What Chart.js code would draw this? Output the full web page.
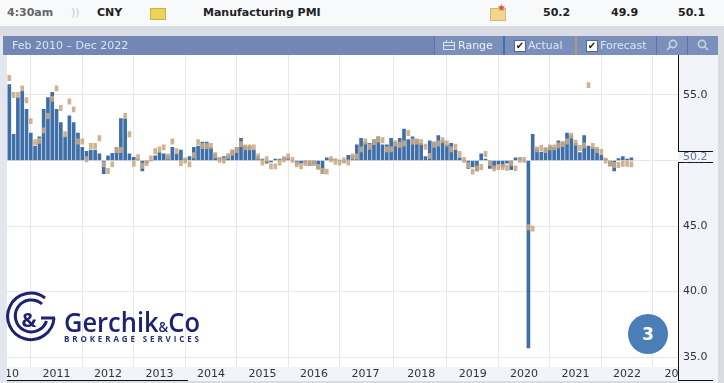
<!DOCTYPE html>
<html>
<head>
<meta charset="utf-8">
<script src="https://cdn.jsdelivr.net/npm/chart.js@4"></script>
<style>
html,body{margin:0;padding:0;background:#d9dde3;}
#page{position:relative;width:724px;height:383px;overflow:hidden;font-family:"DejaVu Sans",sans-serif;}
#page div,#page span{position:absolute;white-space:nowrap;}
#top{left:0;top:0;width:724px;height:26px;background:#f8f9fb;}
#top span{top:6px;font-size:11px;font-weight:bold;color:#222;line-height:14px;}
#bar{left:3px;top:36px;width:715px;height:19px;background:#7287b4;color:#dde4f2;font-size:11px;line-height:19px;}
#bar .btns{left:431px;top:0;width:284px;height:19px;background:#7b8fbb;}
#bar .sep{top:0;width:1px;height:19px;background:#5f74a4;}
#bar .box{top:4px;width:10px;height:10px;background:#fff;border:1px solid #54688f;color:#222;font-size:10px;line-height:10px;text-align:center;}
canvas{position:absolute;left:0;top:0;}
#badge{left:628px;top:314px;width:40px;height:40px;border-radius:50%;background:#4a7eb6;color:#fff;font:bold 17px/40px "DejaVu Sans",sans-serif;text-align:center;}
#logo{position:absolute;left:0;top:285px;}
#bar svg{position:absolute;top:3px;}
</style>
</head>
<body>
<div id="page">
<canvas id="pmi_chart" width="724" height="383"></canvas>
<div id="top">
  <span style="left:7px;color:#666">4:30am</span>
  <span style="left:71px;color:#c4c8ce;font-weight:normal">))</span>
  <span style="left:97px">CNY</span>
  <span style="left:150px;top:8px;width:14px;height:10px;background:#ecd556;border:1px solid #c9b342"></span>
  <span style="left:203px">Manufacturing PMI</span>
  <span style="left:490px;top:8px;width:14px;height:11px;background:#f0d68e;border:1px solid #d9b968"></span>
  <span style="left:497px;top:3px;color:#d8553a;font-size:10px;line-height:10px">★</span>
  <span style="left:543px">50.2</span>
  <span style="left:611px">49.9</span>
  <span style="left:678px">50.1</span>
</div>
<div id="bar">
  <span style="left:9px">Feb 2010 – Dec 2022</span>
  <span class="btns"></span>
  <span class="sep" style="left:431px"></span>
  <svg style="left:440px" width="12" height="12" viewBox="0 0 12 12" fill="none" stroke="#dde4f2"><rect x="0.5" y="3.5" width="11" height="7"/><path d="M0.5 6.5H11.5M3.5 1V3M8.5 1V3"/></svg>
  <span style="left:455px;color:#eef2fa">Range</span>
  <span class="sep" style="left:500px;width:2px;background:#3f6fb5"></span>
  <span class="box" style="left:511px">✔</span>
  <span style="left:525px">Actual</span>
  <span class="sep" style="left:572px;width:2px;background:#ad9a86"></span>
  <span class="box" style="left:583px">✔</span>
  <span style="left:597px">Forecast</span>
  <span class="sep" style="left:653px"></span>
  <span class="sep" style="left:684px"></span>
  <svg style="left:663px" width="12" height="12" viewBox="0 0 12 12" fill="none" stroke="#c9d3e8" stroke-width="1.6"><circle cx="7" cy="5" r="3.6"/><path d="M4.4 7.6L1 11"/></svg>
  <svg style="left:694px" width="12" height="12" viewBox="0 0 12 12" fill="none" stroke="#c9d3e8" stroke-width="1.6"><circle cx="5" cy="5" r="3.6"/><path d="M7.6 7.6L11 11"/></svg>
</div>
<svg id="logo" width="210" height="70" viewBox="0 0 210 70">
  <g fill="none" stroke="#1d2272" stroke-width="3">
    <path d="M45 13 A23.2 23.2 0 1 0 54 33"/>
    <path d="M42 19 A16 16 0 1 0 46.5 36"/>
    <path d="M55 33 H41"/>
  </g>
  <text x="21.5" y="42" font-family="'Open Sans'" font-weight="700" font-size="20" fill="#1d2272">&amp;</text>
  <text x="64" y="47" font-family="'Open Sans'" font-weight="600" font-size="27" fill="#1d2272" textLength="136" lengthAdjust="spacingAndGlyphs">Gerchik<tspan font-size="14">&amp;</tspan>Co</text>
  <text x="64" y="57" font-family="'Open Sans'" font-weight="700" font-size="8" fill="#2a2f7c" textLength="135">BROKERAGE SERVICES</text>
</svg>
<div id="badge">3</div>
</div>
<script>
const years = [2010,2011,2012,2013,2014,2015,2016,2017,2018,2019,2020,2021,2022];
const month_names = ['Jan','Feb','Mar','Apr','May','Jun','Jul','Aug','Sep','Oct','Nov','Dec'];

//one row per year, Jan to Dec
const actual = [
    55.8,52.0,54.8,55.3,53.9,52.1,51.1,51.8,53.9,54.8,55.2,53.9,
    52.9,51.8,53.4,52.9,52.1,51.0,50.7,50.8,50.8,50.5,49.0,50.35,
    50.55,51.0,53.2,53.2,50.5,50.25,50.1,49.2,49.8,50.0,50.35,50.6,
    50.5,50.35,51.0,50.5,50.8,50.1,50.3,51.0,51.1,51.4,51.4,51.0,
    50.5,50.2,50.3,50.4,50.8,51.0,51.7,51.1,51.1,50.8,50.3,50.1,
    49.8,49.9,50.1,50.1,50.2,50.2,50.0,49.7,49.8,49.8,49.6,49.7,
    49.4,49.0,50.2,50.1,50.1,50.0,49.9,50.4,50.4,51.2,51.7,51.4,
    51.3,51.6,51.8,51.2,51.2,51.7,51.4,51.7,52.4,51.6,51.8,51.6,
    51.3,50.3,51.5,51.4,51.9,51.5,51.2,51.3,50.8,50.2,50.0,49.4,
    49.5,49.2,50.5,50.1,49.4,49.4,49.7,49.5,49.8,49.3,50.2,50.2,
    50.0,35.7,52.0,50.9,50.65,50.9,51.1,51.0,51.5,51.4,52.1,51.9,
    51.3,50.6,51.9,51.1,51.0,50.9,50.4,50.1,49.6,49.2,50.15,50.3,
    50.1,50.2
];
const forecast = [
    56.3,55.0,55.0,55.5,54.6,53.0,51.4,51.5,52.3,53.4,54.7,55.5,
    54.0,52.0,54.5,53.9,51.45,51.45,50.1,51.1,51.1,51.7,49.7,49.2,
    49.7,50.8,50.8,53.4,52.0,49.75,50.25,49.6,49.8,50.15,50.7,50.85,
    51.0,50.3,51.45,50.7,49.8,50.0,49.7,50.4,51.4,51.1,51.1,51.1,
    50.4,50.05,50.0,50.35,50.6,50.8,51.25,51.0,51.0,51.0,50.3,49.85,
    50.1,49.55,49.55,49.85,50.1,50.3,50.05,49.7,49.55,49.8,49.8,49.8,
    49.5,49.2,49.15,50.1,49.9,49.85,50.0,49.85,50.3,50.3,50.85,51.45,
    51.05,51.4,51.6,51.55,50.85,50.85,51.3,51.2,51.3,52.1,51.45,51.45,
    51.4,51.05,50.35,51.2,51.3,51.55,51.3,50.85,51.05,50.5,50.05,49.65,
    49.15,49.4,49.5,50.5,49.8,49.4,49.5,49.5,49.45,49.8,49.4,50.05,
    50.05,44.9,44.8,50.85,50.95,50.8,51.0,51.0,51.15,51.25,51.45,51.9,
    51.35,50.95,51.15,55.75,51.1,50.8,50.65,50.0,49.75,49.65,49.65,49.75,
    49.75,49.7
];

//the gridlines sit on these months, the source chart is not regular before 2018
const tick_months = ['Dec 2009','Dec 2010','Dec 2011','Dec 2012','Dec 2013','Dec 2014','Dec 2015','Dec 2016','Jan 2018','Jan 2019','Jan 2020','Jan 2021','Jan 2022','Jan 2023'];
const tick_labels = ['2010','2011','2012','2013','2014','2015','2016','2017','2018','2019','2020','2021','2022','2023'];
const value_ticks = [35,40,45,50,55];
const last_value = '50.2';

const categories = ['Dec 2009'];
years.forEach((y) => month_names.forEach((m) => categories.push(m+' '+y)));
categories.push('Jan 2023');

const PLOT_LEFT = 2.9, PLOT_RIGHT = 680.7, PLOT_TOP = 55, PLOT_BOTTOM = 367;
const FORECAST_HALF = 0.2;

//panels around the plot, drawn over the clipped year labels
const panels = {
    id: 'panels',
    beforeDraw: (chart) => {
        const c = chart.ctx;
        c.save();
        c.fillStyle = '#ffffff';
        c.fillRect(0, PLOT_TOP, 724, PLOT_BOTTOM-PLOT_TOP);
        c.fillStyle = '#f2f4f9';
        c.fillRect(0, PLOT_BOTTOM, 724, 381-PLOT_BOTTOM);
        c.restore();
    },
    afterDatasetsDraw: (chart) => {
        const c = chart.ctx;
        c.save();
        c.fillStyle = '#e3e6ee';
        c.fillRect(0, 36, 7, 347);
        c.fillStyle = '#f2f4f9';
        c.fillRect(678, 55, 40, 328);
        c.fillStyle = '#d9dde3';
        c.fillRect(718, 26, 6, 357);
        c.fillStyle = '#111';
        c.fillRect(678, 55, 1, 96);
        c.fillRect(678, 151, 35, 1);
        c.fillRect(678, 162, 35, 1);
        c.fillRect(678, 162, 1, 219);
        c.fillRect(678, 380, 35, 1);
        c.fillRect(7, 380, 181, 1);
        c.restore();
    },
    afterDraw: (chart) => {
        const c = chart.ctx;
        c.save();
        c.fillStyle = '#f2f4f9';
        c.fillRect(679, 152, 39, 10);
        c.fillStyle = '#66788f';
        c.font = '11px "DejaVu Sans"';
        c.textBaseline = 'middle';
        c.fillText(last_value, 683, 157);
        c.restore();
    }
};

new Chart('pmi_chart', {
    type: 'bar',
    data: {
        labels: categories,
        datasets: [{
            label: 'Forecast',
            data: [null, ...forecast.map((f) => [f-FORECAST_HALF, f+FORECAST_HALF])],
            backgroundColor: 'rgba(203,170,128,0.88)',
            barThickness: 3,
            grouped: false,
            order: 1
        },{
            label: 'Actual',
            data: [null, ...actual],
            base: 50,
            backgroundColor: '#3f6fa8',
            barThickness: 3,
            grouped: false,
            order: 2
        }]
    },
    options: {
        responsive: false,
        animation: false,
        layout: {padding: {top: PLOT_TOP, left: PLOT_LEFT, bottom: 0, right: 0}},
        plugins: {legend: {display: false}, tooltip: {enabled: false}},
        scales: {
            x: {
                afterBuildTicks: (axis) => {
                    axis.ticks = tick_months.map((m) => ({value: categories.indexOf(m)}));
                },
                afterFit: (axis) => {
                    axis.paddingLeft = 0;
                    axis.paddingRight = 0;
                    axis.height = 383-PLOT_BOTTOM;
                },
                grid: {color: '#e6e7ec', drawTicks: false},
                border: {display: false},
                ticks: {
                    autoSkip: false,
                    maxRotation: 0,
                    padding: 1,
                    color: '#333',
                    font: {family: 'DejaVu Sans', size: 11},
                    callback: function(value) {
                        return tick_labels[tick_months.indexOf(categories[value])];
                    }
                }
            },
            y: {
                position: 'right',
                min: 34.24,
                max: 58.05,
                afterBuildTicks: (axis) => {
                    axis.ticks = value_ticks.map((v) => ({value: v}));
                },
                afterFit: (axis) => {
                    axis.width = 724-PLOT_RIGHT;
                    axis.paddingTop = 0;
                    axis.paddingBottom = 0;
                },
                grid: {color: '#e6e7ec', drawTicks: false},
                border: {display: false},
                ticks: {
                    z: 1,
                    padding: 2.3,
                    color: '#333',
                    font: {family: 'DejaVu Sans', size: 11},
                    callback: (v) => v.toFixed(1)
                }
            }
        }
    },
    plugins: [panels]
});
</script>
</body>
</html>
